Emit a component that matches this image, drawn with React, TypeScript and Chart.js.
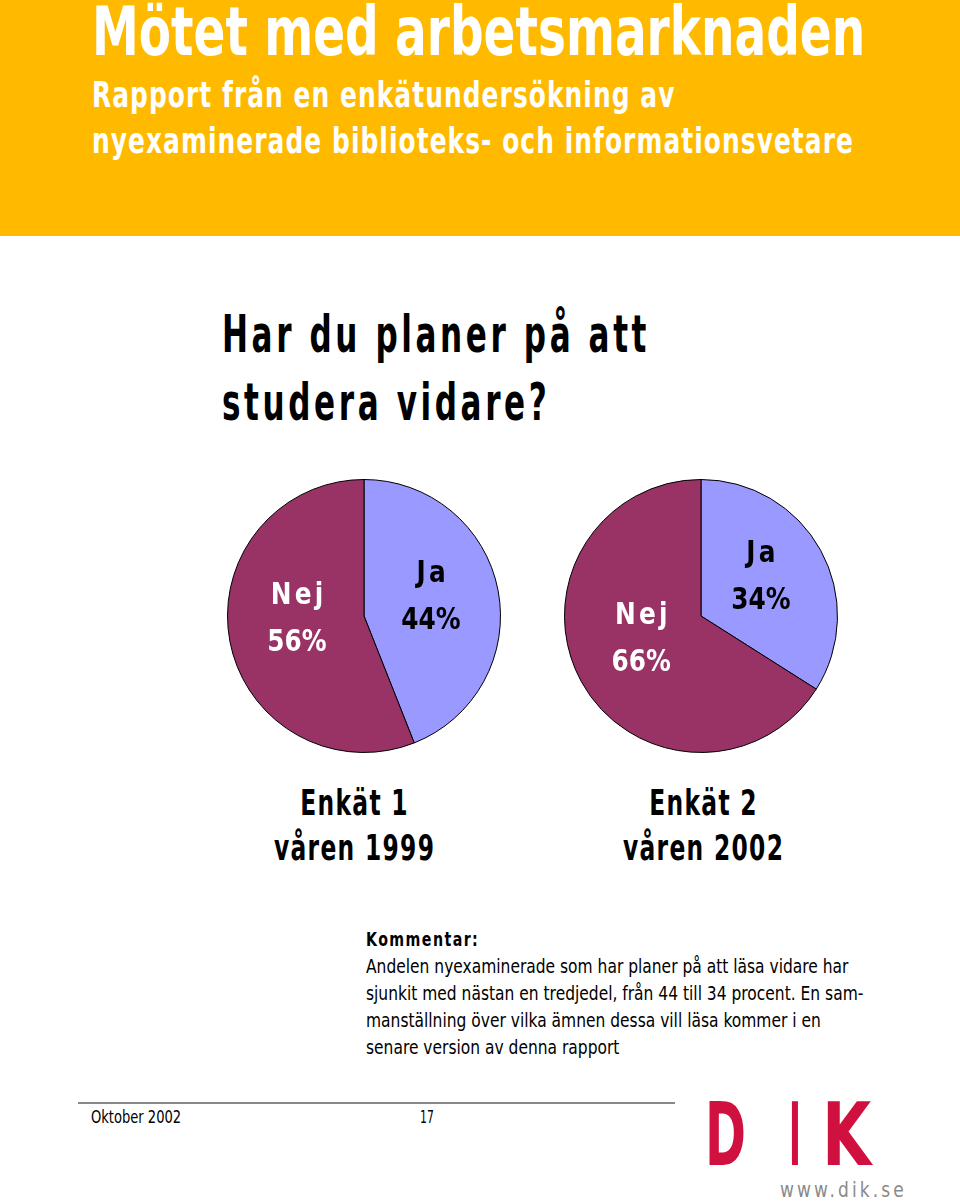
import React, { useEffect, useLayoutEffect, useRef } from "react";
import { Chart, registerables } from "chart.js";

Chart.register(...registerables);

// ---- data ----
const categories = ["Ja", "Nej"];
const survey1Values = [44, 56];
const survey2Values = [34, 66];
const survey1Caption = ["Enkät 1", "våren 1999"];
const survey2Caption = ["Enkät 2", "våren 2002"];
const sliceColors = ["#9999FF", "#993366"];
const sliceLabelColors = ["#000000", "#FFFFFF"];

const FONT = '"DejaVu Sans", "Open Sans", sans-serif';

const sliceLabelPlugin = {
  id: "sliceLabels",
  afterDatasetsDraw(chart: any) {
    const ctx = chart.ctx as CanvasRenderingContext2D;
    const meta = chart.getDatasetMeta(0);
    const data = chart.data.datasets[0].data as number[];
    meta.data.forEach((arc: any, i: number) => {
      const p = arc.tooltipPosition();
      const dy = i === 1 ? -4 : 0;
      ctx.save();
      ctx.translate(p.x, p.y + dy);
      ctx.scale(0.8, 1);
      ctx.font = `bold 31px ${FONT}`;
      ctx.textAlign = "center";
      ctx.textBaseline = "middle";
      ctx.fillStyle = sliceLabelColors[i];
      (ctx as any).letterSpacing = "4px";
      ctx.fillText(String(chart.data.labels[i]), 2, -29);
      (ctx as any).letterSpacing = "0px";
      ctx.fillText(`${data[i]}%`, 0, 18);
      ctx.restore();
    });
  },
};

function Pie({ values, left, top }: { values: number[]; left: number; top: number }) {
  const ref = useRef<HTMLCanvasElement>(null);
  useEffect(() => {
    if (!ref.current) return;
    const chart = new Chart(ref.current, {
      type: "pie",
      data: {
        labels: categories,
        datasets: [
          {
            data: values,
            backgroundColor: sliceColors,
            borderColor: "#000000",
            borderWidth: 1,
          },
        ],
      },
      options: {
        responsive: false,
        maintainAspectRatio: false,
        animation: false,
        layout: { padding: 3 },
        plugins: { legend: { display: false }, tooltip: { enabled: false } },
      },
      plugins: [sliceLabelPlugin],
    });
    return () => chart.destroy();
  }, [values]);
  return (
    <canvas
      ref={ref}
      width={280}
      height={280}
      style={{ position: "absolute", left, top, width: 280, height: 280 }}
    />
  );
}

// Text block horizontally condensed to a target width (the reference uses a condensed face).
function Fit({
  x,
  top,
  width,
  center,
  style,
  children,
}: {
  x: number;
  top: number;
  width: number;
  center?: boolean;
  style?: React.CSSProperties;
  children: React.ReactNode;
}) {
  const ref = useRef<HTMLDivElement>(null);
  useLayoutEffect(() => {
    const el = ref.current;
    if (!el) return;
    el.style.transform = "none";
    const w = el.scrollWidth || 1;
    el.style.transform = `scaleX(${width / w})`;
    el.style.left = `${center ? x - width / 2 : x}px`;
  }, [x, width, center]);
  return (
    <div
      ref={ref}
      style={{
        position: "absolute",
        left: x,
        top,
        whiteSpace: "nowrap",
        fontFamily: FONT,
        transformOrigin: "0 0",
        textAlign: center ? "center" : "left",
        ...style,
      }}
    >
      {children}
    </div>
  );
}

export default function App() {
  return (
    <div
      style={{
        position: "absolute",
        left: 0,
        top: 0,
        width: 960,
        height: 1202,
        overflow: "hidden",
        background: "#FFFFFF",
        fontFamily: FONT,
      }}
    >
      {/* header band */}
      <div style={{ position: "absolute", left: 0, top: 0, width: 960, height: 236, background: "#FFBA00" }} />
      <Fit
        x={92}
        top={1}
        width={773}
        style={{ fontSize: 67, lineHeight: "62px", color: "#FFFFFF", fontWeight: 700 }}
      >
        Mötet med arbetsmarknaden
      </Fit>
      <Fit
        x={92}
        top={72}
        width={762}
        style={{ fontSize: 35, lineHeight: "46px", color: "#FFFFFF", fontWeight: 700, letterSpacing: 1.5 }}
      >
        Rapport från en enkätundersökning av
        <br />
        nyexaminerade biblioteks- och informationsvetare
      </Fit>

      {/* question */}
      <Fit
        x={222}
        top={300}
        width={428}
        style={{ fontSize: 52, lineHeight: "68px", color: "#000000", fontWeight: 700, letterSpacing: 6 }}
      >
        Har du planer på att
        <br />
        studera vidare?
      </Fit>

      {/* pies */}
      <Pie values={survey1Values} left={224} top={476} />
      <Pie values={survey2Values} left={561} top={476} />

      {/* captions */}
      {[
        { cap: survey1Caption, cx: 354 },
        { cap: survey2Caption, cx: 703 },
      ].map((c, i) => (
        <Fit
          key={i}
          x={c.cx}
          center
          top={780}
          width={161}
          style={{ fontSize: 36, lineHeight: "45px", fontWeight: 700, letterSpacing: 2, color: "#000000" }}
        >
          {c.cap[0]}
          <br />
          {c.cap[1]}
        </Fit>
      ))}

      {/* comment */}
      <Fit x={366} top={927} width={113} style={{ fontSize: 20, fontWeight: 700, letterSpacing: 2, color: "#000" }}>
        Kommentar:
      </Fit>
      <Fit x={366} top={953} width={497} style={{ fontSize: 20, lineHeight: "27px", color: "#000" }}>
        Andelen nyexaminerade som har planer på att läsa vidare har
        <br />
        sjunkit med nästan en tredjedel, från 44 till 34 procent. En sam-
        <br />
        manställning över vilka ämnen dessa vill läsa kommer i en
        <br />
        senare version av denna rapport
      </Fit>

      {/* footer */}
      <div style={{ position: "absolute", left: 78, top: 1102, width: 597, height: 2, background: "#888888" }} />
      <Fit x={91} top={1106} width={90} style={{ fontSize: 17, lineHeight: "22px", color: "#000" }}>
        Oktober 2002
      </Fit>
      <Fit x={420} top={1106} width={14} style={{ fontSize: 17, lineHeight: "22px", color: "#000" }}>
        17
      </Fit>
      {[
        { ch: "D", x: 705, w: 41 },
        { ch: "I", x: 789, w: 12 },
        { ch: "K", x: 822, w: 49 },
      ].map((l) => (
        <Fit
          key={l.ch}
          x={l.x}
          top={1102}
          width={l.w}
          style={{ fontSize: 88, lineHeight: "66px", color: "#D0103F", fontWeight: 700 }}
        >
          {l.ch}
        </Fit>
      ))}
      <Fit
        x={780}
        top={1180}
        width={127}
        style={{ fontSize: 22, lineHeight: "20px", color: "#8A8A8A", letterSpacing: 4 }}
      >
        www.dik.se
      </Fit>
    </div>
  );
}
